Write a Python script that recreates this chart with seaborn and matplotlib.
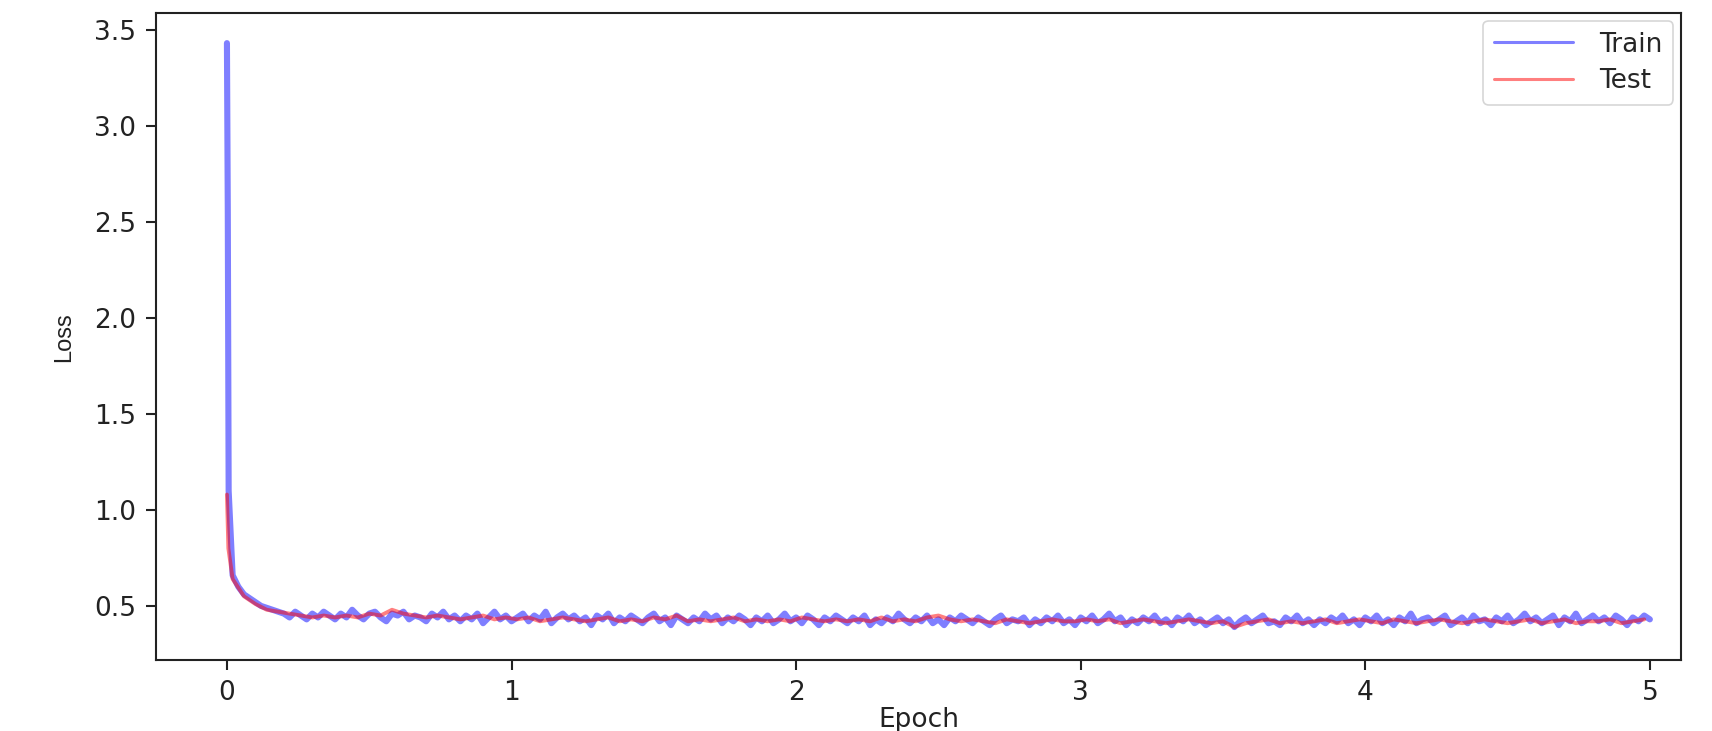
import numpy as np
import pandas as pd
import matplotlib
matplotlib.use("Agg")
import matplotlib.pyplot as plt
import seaborn as sns

# ---------------- data ----------------
train_head_epoch = [0.0, 0.003, 0.006]
train_head_loss = [3.43, 2.55, 1.10]
train_step = 0.02  # epochs between recorded train points after the head
train_loss = [
    0.66, 0.60, 0.56, 0.54, 0.52, 0.50, 0.49, 0.48, 0.47, 0.46,
    0.44, 0.47, 0.45, 0.43, 0.46, 0.44, 0.47, 0.45, 0.43, 0.46,
    0.44, 0.48, 0.45, 0.43, 0.46, 0.47, 0.44, 0.42, 0.46, 0.45,
    0.47, 0.43, 0.45, 0.44, 0.42, 0.46, 0.44, 0.47, 0.43, 0.45,
    0.42, 0.45, 0.43, 0.46, 0.41, 0.44, 0.47, 0.43, 0.45, 0.42,
    0.44, 0.46, 0.42, 0.45, 0.43, 0.47, 0.41, 0.44, 0.46, 0.43,
    0.45, 0.42, 0.44, 0.40, 0.45, 0.43, 0.46, 0.41, 0.44, 0.42,
    0.45, 0.43, 0.41, 0.44, 0.46, 0.42, 0.44, 0.40, 0.45, 0.43,
    0.41, 0.44, 0.42, 0.46, 0.43, 0.45, 0.41, 0.44, 0.42, 0.45,
    0.43, 0.40, 0.44, 0.42, 0.45, 0.41, 0.43, 0.46, 0.42, 0.44,
    0.41, 0.45, 0.43, 0.40, 0.44, 0.42, 0.45, 0.43, 0.41, 0.44,
    0.42, 0.45, 0.40, 0.43, 0.41, 0.44, 0.42, 0.46, 0.43, 0.41,
    0.44, 0.42, 0.45, 0.41, 0.43, 0.40, 0.44, 0.42, 0.45, 0.43,
    0.41, 0.44, 0.42, 0.40, 0.43, 0.45, 0.41, 0.43, 0.42, 0.44,
    0.40, 0.43, 0.41, 0.44, 0.42, 0.45, 0.41, 0.43, 0.40, 0.44,
    0.42, 0.45, 0.41, 0.43, 0.46, 0.42, 0.44, 0.40, 0.43, 0.41,
    0.44, 0.42, 0.45, 0.41, 0.43, 0.40, 0.44, 0.42, 0.45, 0.41,
    0.43, 0.40, 0.42, 0.44, 0.41, 0.43, 0.39, 0.42, 0.44, 0.41,
    0.43, 0.45, 0.41, 0.42, 0.40, 0.44, 0.42, 0.45, 0.41, 0.43,
    0.40, 0.43, 0.41, 0.44, 0.42, 0.45, 0.41, 0.43, 0.40, 0.44,
    0.42, 0.45, 0.41, 0.43, 0.40, 0.44, 0.42, 0.46, 0.41, 0.43,
    0.44, 0.41, 0.43, 0.45, 0.40, 0.42, 0.44, 0.41, 0.45, 0.42,
    0.43, 0.40, 0.44, 0.42, 0.45, 0.41, 0.43, 0.46, 0.42, 0.44,
    0.41, 0.43, 0.45, 0.40, 0.44, 0.42, 0.46, 0.41, 0.43, 0.45,
    0.42, 0.44, 0.41, 0.45, 0.43, 0.40, 0.44, 0.42, 0.45, 0.43,
]

test_head_epoch = [0.0, 0.005]
test_head_loss = [1.08, 0.80]
test_step = 0.04
test_loss = [
    0.64, 0.55, 0.51, 0.48, 0.47, 0.46, 0.45, 0.44, 0.45, 0.44,
    0.45, 0.44, 0.46, 0.45, 0.48, 0.46, 0.45, 0.44, 0.45, 0.44,
    0.43, 0.44, 0.45, 0.43, 0.44, 0.43, 0.44, 0.42, 0.43, 0.44,
    0.43, 0.42, 0.43, 0.44, 0.42, 0.43, 0.42, 0.44, 0.43, 0.45,
    0.42, 0.43, 0.42, 0.43, 0.44, 0.42, 0.43, 0.42, 0.43, 0.42,
    0.44, 0.43, 0.42, 0.43, 0.42, 0.43, 0.42, 0.44, 0.42, 0.43,
    0.42, 0.44, 0.45, 0.43, 0.42, 0.43, 0.42, 0.41, 0.43, 0.42,
    0.41, 0.42, 0.43, 0.42, 0.42, 0.43, 0.42, 0.43, 0.41, 0.42,
    0.43, 0.42, 0.41, 0.42, 0.43, 0.42, 0.41, 0.42, 0.39, 0.41,
    0.42, 0.43, 0.41, 0.42, 0.41, 0.42, 0.43, 0.41, 0.42, 0.43,
    0.42, 0.41, 0.43, 0.42, 0.41, 0.42, 0.43, 0.42, 0.41, 0.42,
    0.43, 0.42, 0.41, 0.42, 0.43, 0.41, 0.42, 0.43, 0.41, 0.42,
    0.42, 0.43, 0.41, 0.42, 0.43,
]

x_ticks = [0, 1, 2, 3, 4, 5]
y_ticks = [0.5, 1.0, 1.5, 2.0, 2.5, 3.0, 3.5]

# ---------------- build tables ----------------
train_epoch = train_head_epoch + [round(0.02 + train_step * i, 4) for i in range(len(train_loss))]
train_df = pd.DataFrame({"Epoch": train_epoch, "Loss": train_head_loss + train_loss})
test_epoch = test_head_epoch + [round(0.02 + test_step * i, 4) for i in range(len(test_loss))]
test_df = pd.DataFrame({"Epoch": test_epoch, "Loss": test_head_loss + test_loss})

# ---------------- plot ----------------
sns.set_theme(style="ticks")
plt.rcParams["font.family"] = ["DejaVu Sans"]

fig = plt.figure(figsize=(17.12, 7.31), dpi=100)
ax = fig.add_axes([0.091, 0.097, 0.891, 0.885])

sns.lineplot(data=train_df, x="Epoch", y="Loss", ax=ax, color="blue", alpha=0.5,
             linewidth=4.4, label="Train", estimator=None, sort=False)
sns.lineplot(data=test_df, x="Epoch", y="Loss", ax=ax, color="red", alpha=0.5,
             linewidth=2.8, label="Test", estimator=None, sort=False)

ax.set_xlim(-0.25, 5.11)
ax.set_ylim(0.218, 3.586)
ax.set_xticks(x_ticks)
ax.set_yticks(y_ticks)
ax.set_xticklabels([str(t) for t in x_ticks])
ax.set_yticklabels([f"{t:.1f}" for t in y_ticks])
ax.tick_params(axis="both", labelsize=19, length=7, width=1.5, colors="#222222",
               direction="out", pad=7)
for s in ax.spines.values():
    s.set_visible(True)
    s.set_color("#222222")
    s.set_linewidth(1.5)

ax.set_xlabel("Epoch", fontsize=19, color="#222222", labelpad=1)
ax.set_ylabel("Loss", fontsize=17, color="#222222", labelpad=14,
              family=["Liberation Sans Narrow", "Liberation Sans", "DejaVu Sans"])

leg = ax.legend(loc="upper right", fontsize=19, frameon=True, fancybox=True,
                handlelength=3.0, borderpad=0.4, labelspacing=0.4, handletextpad=1.0,
                borderaxespad=0.3)
leg.get_frame().set_edgecolor("#cccccc")
leg.get_frame().set_linewidth(1.2)
for line in leg.get_lines():
    line.set_linewidth(2.2)

fig.savefig("out.png", dpi=100, facecolor="white")
